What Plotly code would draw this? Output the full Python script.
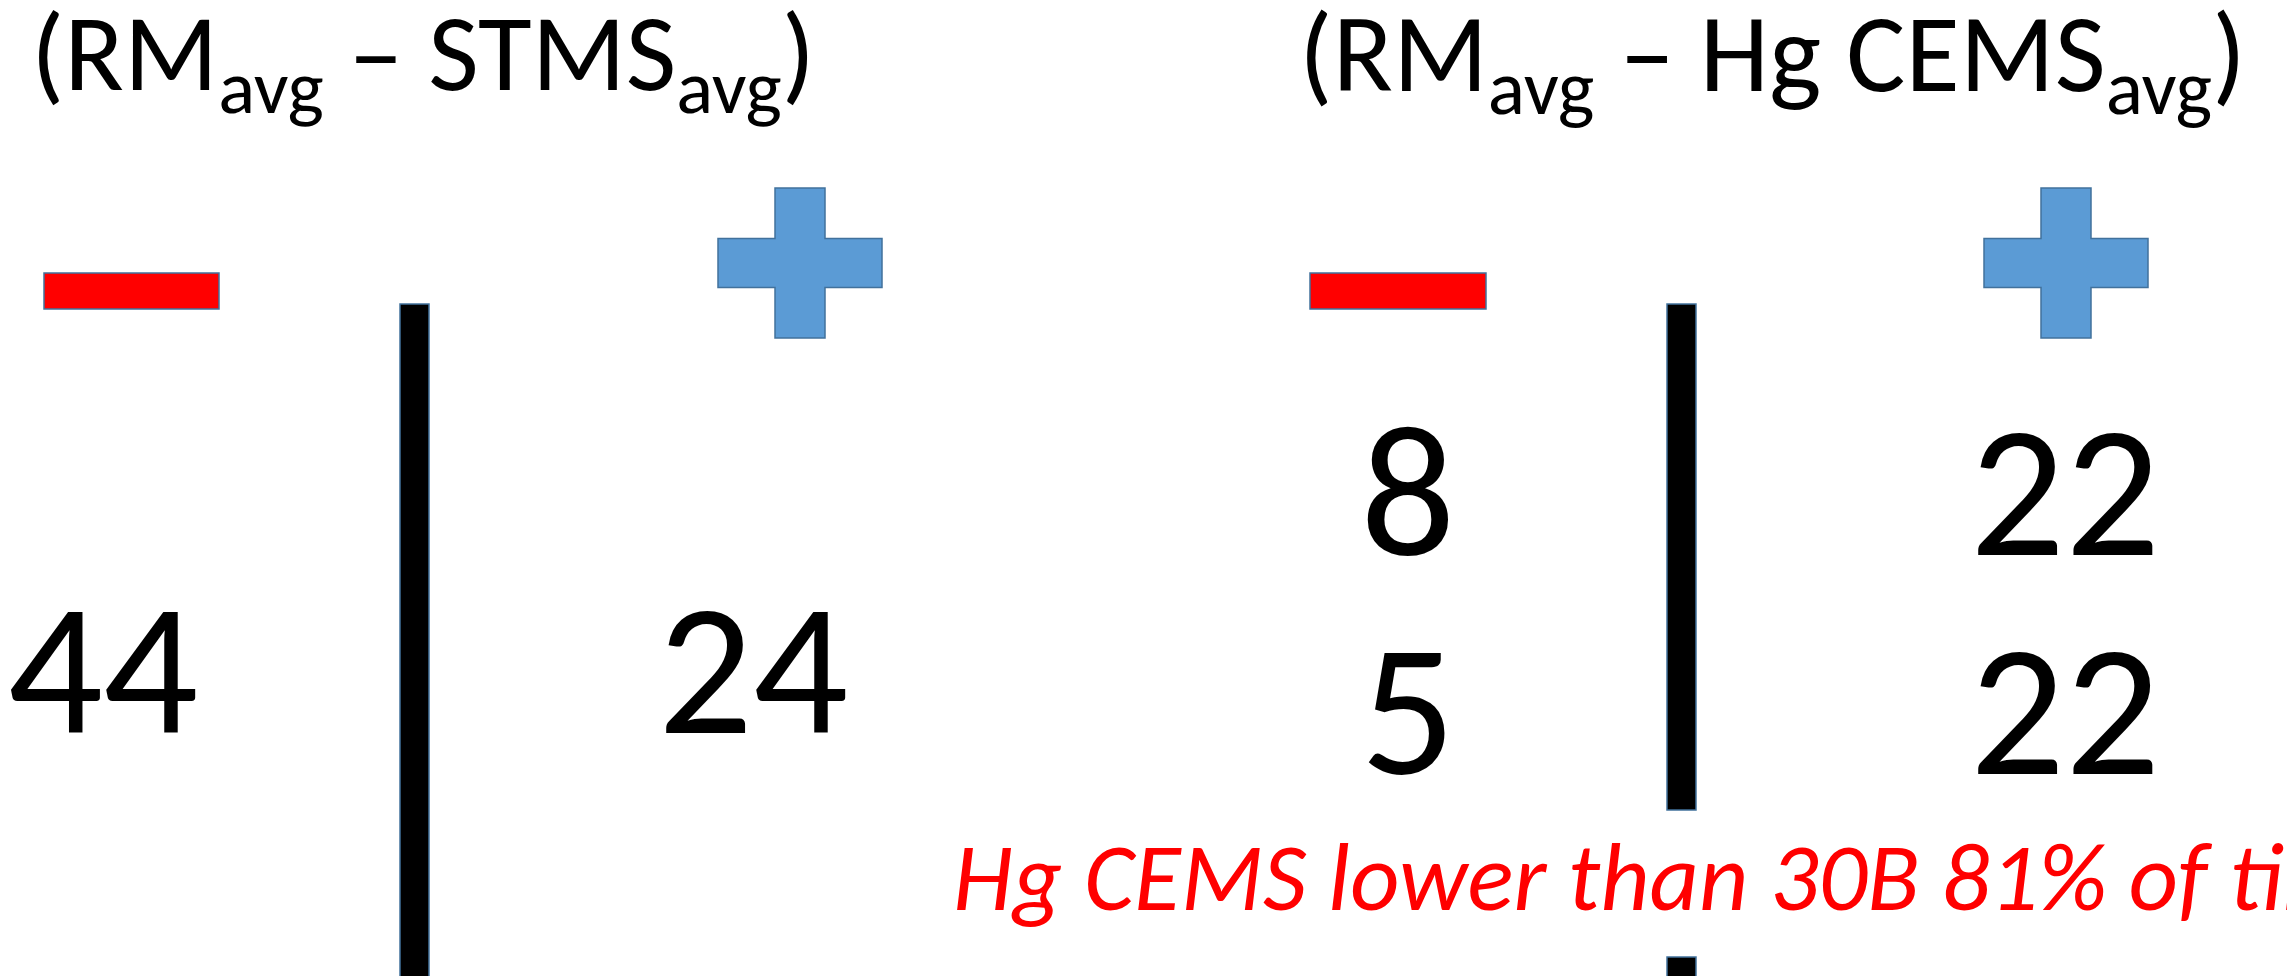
import plotly.graph_objects as go

# ---- data ----
titles = ["(RM<sub>avg</sub> – STMS<sub>avg</sub>)", "(RM<sub>avg</sub> – Hg CEMS<sub>avg</sub>)"]
stms_neg = [44]
stms_pos = [24]
cems_neg = [8, 5]
cems_pos = [22, 22]
note = "Hg CEMS lower than 30B 81% of time"

W, H = 2287, 976
FONT = "Calibri, Carlito, Lato, sans-serif"
BORDER = "#41719C"
BLUE = "#5B9BD5"

# layout constants (pixel space)
col_x = {"stms_neg": 103, "stms_pos": 753, "cems_neg": 1408, "cems_pos": 2065}
stms_rows = [686]
cems_rows = [508, 727]

fig = go.Figure()

def add_numbers(vals, xc, rows):
    fig.add_trace(go.Scatter(
        x=[xc] * len(vals), y=rows[:len(vals)], mode="text",
        text=[str(v) for v in vals], textposition="middle center",
        textfont=dict(family=FONT, size=188, color="black"),
        hoverinfo="skip", showlegend=False, cliponaxis=False))

add_numbers(stms_neg, col_x["stms_neg"], stms_rows)
add_numbers(stms_pos, col_x["stms_pos"], stms_rows)
add_numbers(cems_neg, col_x["cems_neg"], cems_rows)
add_numbers(cems_pos, col_x["cems_pos"], cems_rows)

shapes = []
# minus bars
for x0, x1 in [(44, 219), (1310, 1486)]:
    shapes.append(dict(type="rect", x0=x0, x1=x1, y0=273, y1=309,
                       fillcolor="#FF0000", line=dict(color=BORDER, width=1.5)))
# plus signs
def cross(cx, cy, half_w=82, half_h=75, arm=25, bar=24.5):
    p = [(cx - arm, cy - half_h), (cx + arm, cy - half_h), (cx + arm, cy - bar),
         (cx + half_w, cy - bar), (cx + half_w, cy + bar), (cx + arm, cy + bar),
         (cx + arm, cy + half_h), (cx - arm, cy + half_h), (cx - arm, cy + bar),
         (cx - half_w, cy + bar), (cx - half_w, cy - bar), (cx - arm, cy - bar)]
    return "M " + " L ".join(f"{a},{b}" for a, b in p) + " Z"
for cx in [800, 2066]:
    shapes.append(dict(type="path", path=cross(cx, 263), fillcolor=BLUE,
                       line=dict(color=BORDER, width=1.5)))
# divider lines
for x0, x1, y0, y1 in [(400, 429, 304, 990), (1667, 1696, 304, 810), (1667, 1696, 957, 990)]:
    shapes.append(dict(type="rect", x0=x0, x1=x1, y0=y0, y1=y1,
                       fillcolor="black", line=dict(color=BORDER, width=1.5)))

annotations = [
    dict(x=30, xref="x", y=1, yref="paper", yshift=16, xanchor="left", yanchor="top",
         text=titles[0], showarrow=False,
         font=dict(family=FONT, size=110, color="black"), borderpad=0),
    dict(x=1298, xref="x", y=1, yref="paper", yshift=16, xanchor="left", yanchor="top",
         text=titles[1], showarrow=False,
         font=dict(family=FONT, size=111, color="black"), borderpad=0),
    dict(x=952, y=818, xanchor="left", yanchor="top", text="<i>" + note + "</i>", showarrow=False,
         font=dict(family=FONT, size=96, color="#FF0000"), borderpad=0),
]

fig.update_layout(
    width=W, height=H, margin=dict(l=0, r=0, t=0, b=0),
    paper_bgcolor="white", plot_bgcolor="white",
    xaxis=dict(range=[0, W], visible=False, fixedrange=True),
    yaxis=dict(range=[H, 0], visible=False, fixedrange=True),
    shapes=shapes, annotations=annotations, showlegend=False,
)

fig.write_html("out.html", config={"displayModeBar": False},
               post_script="document.body.style.margin='0px';document.body.style.overflow='hidden';")
